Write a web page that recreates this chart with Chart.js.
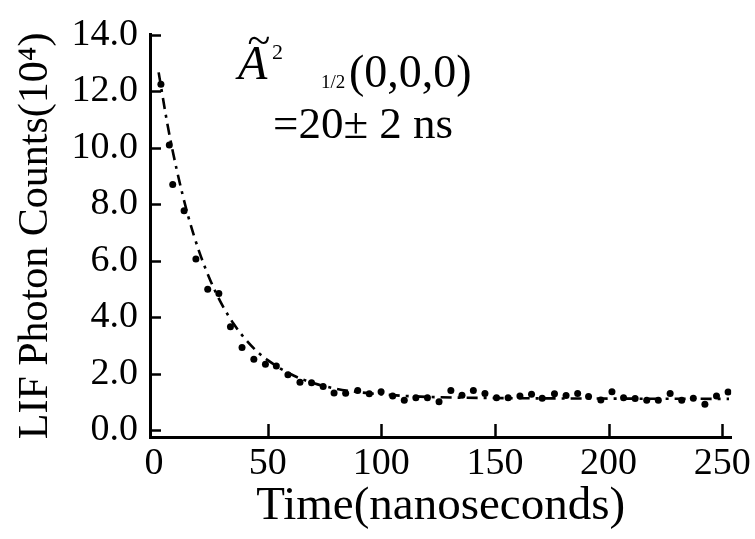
<!DOCTYPE html>
<html>
<head>
<meta charset="utf-8">
<script src="https://cdn.jsdelivr.net/npm/chart.js@4"></script>
<style>
  html, body { margin: 0; padding: 0; background: #fff; }
  canvas { display: block; }
</style>
</head>
<body>
<canvas id="decayChart" width="755" height="539"></canvas>
<script>

/*
====================================
DATA
====================================
*/

const timeNs = [
  3.0, 6.7, 8.2, 13.2, 18.4, 23.6, 28.5, 33.6, 38.7, 43.9,
  49.0, 53.8, 58.9, 64.2, 69.3, 74.4, 79.2, 84.3, 89.6, 94.7,
  99.9, 105.0, 110.1, 115.2, 120.3, 125.4, 130.6, 135.5, 140.5, 145.6,
  150.7, 155.8, 161.0, 166.1, 170.8, 176.2, 181.3, 186.4, 191.2, 196.6,
  201.5, 206.6, 211.7, 216.8, 221.9, 227.1, 232.2, 237.3, 242.4, 247.5,
  252.6
];

const photonCounts = [
  12.25, 10.10, 8.70, 7.77, 6.06, 4.99, 4.84, 3.66, 2.93, 2.51,
  2.34, 2.27, 1.96, 1.70, 1.68, 1.55, 1.32, 1.31, 1.41, 1.29,
  1.36, 1.21, 1.06, 1.15, 1.15, 1.01, 1.41, 1.24, 1.41, 1.30,
  1.15, 1.15, 1.21, 1.27, 1.13, 1.29, 1.23, 1.30, 1.19, 1.07,
  1.36, 1.15, 1.12, 1.06, 1.06, 1.30, 1.06, 1.13, 0.92, 1.21,
  1.35
];

// fitted decay curve
const fitTime = [2, 6, 10, 15, 20, 25, 30, 35, 40, 45, 50, 60, 70, 80, 90, 100, 120, 150, 200, 253];
const fitCounts = [12.67, 10.78, 9.21, 7.58, 6.29, 5.26, 4.43, 3.77, 3.24, 2.81, 2.48, 1.99, 1.67, 1.47, 1.35, 1.27, 1.18, 1.14, 1.12, 1.11];

const xTicks = [0, 50, 100, 150, 200, 250];
const yTicks = [0, 2, 4, 6, 8, 10, 12, 14];

const FONT = "'Liberation Serif', 'Times New Roman', serif";

/*
====================================
PLUGIN: inward tick marks
====================================
*/

const tickMarks = {

  id: "tickMarks",

  afterDraw(chart) {

    const { ctx, chartArea, scales: { x, y } } = chart;

    ctx.save();
    ctx.strokeStyle = "#000";
    ctx.lineWidth = 2.5;

    yTicks.forEach(v => {
      const py = Math.round(y.getPixelForValue(v)) + 0.5;
      ctx.beginPath();
      ctx.moveTo(chartArea.left, py);
      ctx.lineTo(chartArea.left + 11, py);
      ctx.stroke();
    });

    xTicks.filter(v => v > 0).forEach(v => {
      const px = Math.round(x.getPixelForValue(v)) + 0.5;
      ctx.beginPath();
      ctx.moveTo(px, chartArea.bottom);
      ctx.lineTo(px, chartArea.bottom - 13);
      ctx.stroke();
    });

    ctx.restore();
  }

};

/*
====================================
PLUGIN: state / lifetime label
====================================
*/

const stateLabel = {

  id: "stateLabel",

  afterDraw(chart) {

    const ctx = chart.ctx;

    ctx.save();
    ctx.fillStyle = "#000";
    ctx.textBaseline = "alphabetic";
    ctx.textAlign = "left";

    ctx.font = "italic 42px " + FONT;
    ctx.fillText("~", 247, 54);

    ctx.font = "italic 48px " + FONT;
    ctx.fillText("A", 238, 79);

    ctx.font = "22px " + FONT;
    ctx.fillText("2", 272, 59);

    ctx.font = "19px " + FONT;
    ctx.fillText("1/2", 321, 88);

    ctx.font = "46px " + FONT;
    ctx.fillText("(0,0,0)", 349, 87);

    ctx.font = "45px " + FONT;
    ctx.fillText("=20\u00b1 2 ns", 273, 138);

    ctx.restore();
  }

};

/*
====================================
CHART
====================================
*/

const decayChart = new Chart(document.getElementById("decayChart"), {

  data: {
    datasets: [
      {
        type: "scatter",
        label: "LIF signal",
        data: timeNs.map((t, i) => ({ x: t, y: photonCounts[i] })),
        pointRadius: 3.5,
        pointBackgroundColor: "#000",
        pointBorderWidth: 0,
        showLine: false
      },
      {
        type: "line",
        label: "fit",
        data: fitTime.map((t, i) => ({ x: t, y: fitCounts[i] })),
        borderColor: "#000",
        borderWidth: 2.6,
        borderDash: [11, 6, 3, 6],
        pointRadius: 0,
        fill: false,
        cubicInterpolationMode: "monotone"
      }
    ]
  },

  options: {
    responsive: false,
    animation: false,
    devicePixelRatio: 1,
    layout: {
      padding: { top: 25, right: 21, bottom: 0, left: 0 }
    },
    plugins: {
      legend: { display: false },
      tooltip: { enabled: false }
    },
    scales: {
      x: {
        type: "linear",
        position: "bottom",
        min: -1.8,
        max: 254,
        afterBuildTicks: s => { s.ticks = xTicks.map(v => ({ value: v })); },
        afterFit: s => { s.height = 102; },
        grid: { display: false, drawTicks: false },
        border: { display: true, color: "#000", width: 3 },
        ticks: {
          color: "#000",
          font: { family: FONT, size: 38 },
          padding: 4,
          maxRotation: 0,
          autoSkip: false
        },
        title: {
          display: true,
          text: "Time(nanoseconds)",
          color: "#000",
          font: { family: FONT, size: 47 },
          padding: { top: 0, bottom: 4 }
        }
      },
      y: {
        type: "linear",
        min: -0.24,
        max: 14,
        afterBuildTicks: s => { s.ticks = yTicks.map(v => ({ value: v })); },
        afterFit: s => { s.width = 150; },
        grid: { display: false, drawTicks: false },
        border: { display: true, color: "#000", width: 3 },
        ticks: {
          color: "#000",
          font: { family: FONT, size: 38 },
          padding: 12,
          callback: v => v.toFixed(1)
        },
        title: {
          display: true,
          text: "LIF Photon Counts(10\u2074)",
          color: "#000",
          font: { family: FONT, size: 42 },
          padding: { top: 11, bottom: 0 }
        }
      }
    }
  },

  plugins: [tickMarks, stateLabel]

});

</script>
</body>
</html>
